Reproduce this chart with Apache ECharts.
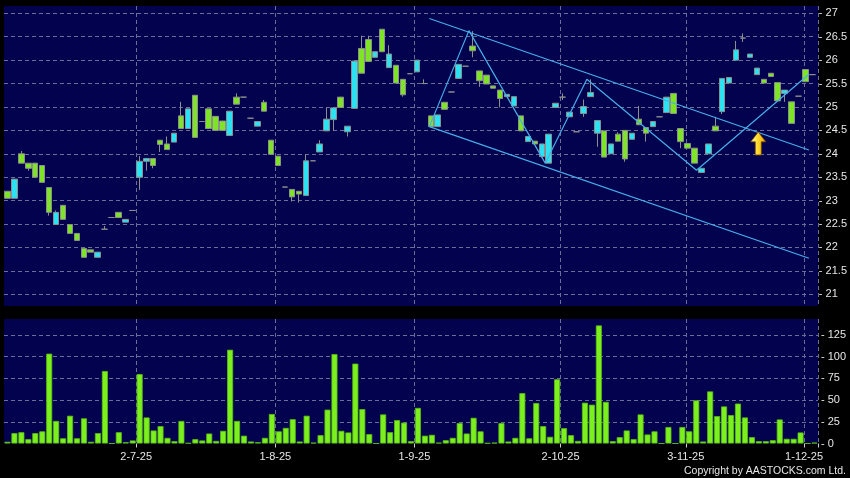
<!DOCTYPE html>
<html>
<head>
<meta charset="utf-8">
<title>K-line</title>
<script src="https://cdn.jsdelivr.net/npm/echarts@6/dist/echarts.min.js"></script>
<style>
  html, body { margin: 0; padding: 0; background: #000; }
  #kline_chart { width: 850px; height: 478px; }
</style>
</head>
<body>
<div id="kline_chart"></div>
<script>
// daily candles: [open, close, low, high]
var ohlc = [
  [23.20, 23.05, 23.05, 23.20], [23.05, 23.46, 23.05, 23.46], [24.00, 23.80, 23.80, 24.06], [23.80, 23.69, 23.64, 23.80],
  [23.80, 23.50, 23.50, 23.80], [23.75, 23.39, 23.39, 23.75], [23.28, 22.75, 22.68, 23.28], [22.49, 22.75, 22.49, 22.79],
  [22.90, 22.60, 22.60, 22.90], [22.49, 22.30, 22.30, 22.49], [22.30, 22.15, 22.15, 22.30], [21.98, 21.79, 21.79, 21.98],
  [21.95, 21.90, 21.90, 21.95], [21.79, 21.90, 21.79, 21.90], [22.39, 22.39, 22.39, 22.46], [22.64, 22.64, 22.64, 22.64],
  [22.75, 22.64, 22.64, 22.75], [22.54, 22.60, 22.54, 22.60], [22.79, 22.79, 22.79, 22.79], [23.50, 23.84, 23.23, 23.95],
  [23.84, 23.90, 23.64, 23.90], [23.90, 23.75, 23.69, 23.90], [24.29, 24.20, 24.04, 24.29], [24.21, 24.09, 24.09, 24.37],
  [24.25, 24.44, 24.25, 24.44], [24.81, 24.54, 24.54, 25.11], [24.54, 24.96, 24.54, 24.96], [25.25, 24.35, 24.35, 25.25],
  [24.69, 24.69, 24.69, 24.69], [24.96, 24.54, 24.54, 24.96], [24.80, 24.50, 24.50, 24.80], [24.70, 24.50, 24.50, 24.70],
  [24.39, 24.91, 24.39, 24.91], [25.21, 25.06, 25.06, 25.29], [25.21, 25.21, 25.21, 25.21], [24.76, 24.76, 24.76, 24.76],
  [24.59, 24.69, 24.59, 24.69], [25.10, 24.91, 24.91, 25.15], [24.29, 23.99, 23.99, 24.29], [23.95, 23.75, 23.75, 23.95],
  [23.29, 23.29, 23.29, 23.29], [23.24, 23.08, 22.98, 23.24], [23.20, 23.14, 22.96, 23.20], [23.11, 23.85, 23.11, 23.99],
  [23.85, 23.85, 23.85, 23.85], [24.04, 24.21, 24.04, 24.29], [24.49, 24.74, 24.49, 24.99], [24.73, 24.98, 24.49, 24.98],
  [25.21, 24.99, 24.99, 25.21], [24.47, 24.59, 24.37, 24.59], [24.97, 25.98, 24.97, 25.98], [26.25, 25.72, 25.72, 26.52],
  [26.44, 25.97, 25.97, 26.52], [26.06, 26.18, 26.06, 26.18], [26.66, 26.18, 26.18, 26.66], [25.84, 26.13, 25.84, 26.32],
  [25.89, 25.51, 25.51, 25.89], [25.59, 25.26, 25.22, 25.59], [25.71, 25.71, 25.71, 25.71], [25.75, 26.00, 25.75, 26.00],
  [25.50, 25.50, 25.50, 25.59], [24.81, 24.58, 24.58, 24.81], [24.58, 24.83, 24.58, 24.83], [25.10, 24.95, 24.95, 25.10],
  [25.32, 25.32, 25.32, 25.32], [25.61, 25.91, 25.61, 25.91], [25.87, 25.87, 25.87, 25.87], [26.30, 26.20, 26.06, 26.62],
  [25.77, 25.56, 25.43, 25.77], [25.68, 25.49, 25.49, 25.68], [25.45, 25.40, 25.40, 25.45], [25.36, 25.18, 24.99, 25.36],
  [25.22, 25.27, 25.22, 25.27], [25.02, 25.22, 25.02, 25.22], [24.81, 24.49, 24.49, 24.81], [24.26, 24.37, 24.26, 24.37],
  [24.27, 24.21, 24.21, 24.27], [23.94, 24.21, 23.94, 24.21], [23.80, 24.42, 23.80, 24.42], [24.99, 25.08, 24.99, 25.08],
  [25.21, 25.21, 25.15, 25.29], [24.79, 24.89, 24.79, 24.89], [24.47, 24.47, 24.47, 24.47], [24.86, 25.01, 24.79, 25.16],
  [25.22, 25.31, 25.22, 25.59], [24.44, 24.71, 24.15, 24.71], [24.49, 23.93, 23.93, 24.49], [24.00, 24.21, 24.00, 24.21],
  [24.42, 24.27, 24.27, 24.46], [24.50, 23.89, 23.83, 24.50], [24.31, 24.44, 24.31, 24.44], [24.74, 24.62, 24.62, 25.02],
  [24.56, 24.44, 24.26, 24.56], [24.58, 24.69, 24.58, 24.69], [24.79, 24.79, 24.79, 24.79], [24.88, 25.21, 24.88, 25.21],
  [25.29, 24.86, 24.86, 25.29], [24.54, 24.26, 24.12, 24.54], [24.22, 24.12, 24.12, 24.22], [24.12, 23.80, 23.80, 24.12],
  [23.60, 23.69, 23.60, 23.69], [24.00, 24.21, 24.00, 24.21], [24.59, 24.49, 24.49, 24.79], [24.90, 25.61, 24.85, 25.61],
  [25.51, 25.63, 25.51, 25.63], [26.00, 26.22, 26.00, 26.41], [26.47, 26.47, 26.39, 26.57], [26.06, 26.13, 26.06, 26.13],
  [25.69, 25.83, 25.69, 25.83], [25.59, 25.51, 25.51, 25.59], [25.72, 25.65, 25.65, 25.72], [25.52, 25.13, 25.13, 25.52],
  [25.29, 25.36, 25.11, 25.36], [25.11, 24.65, 24.65, 25.11], [25.23, 25.23, 25.23, 25.23], [25.80, 25.54, 25.54, 25.80],
  [25.69, 25.69, 25.69, 25.69]
];

var volume = [
  2, 12, 13, 5, 12, 14, 103.5, 26, 6, 32, 6, 29, 2, 12, 83.5, 0, 13, 1.5, 3.5, 80,
  30, 15, 20, 6.5, 2.7, 26, 0.5, 5, 3.5, 11.5, 3, 14.6, 108, 26, 9, 2.3, 1.5, 6.5, 34, 14,
  18, 28, 2.3, 32, 1, 9.6, 39, 103, 14.6, 12.7, 92, 39.6, 10.8, 0, 33.5, 13, 27, 24, 2.7, 41,
  9, 10, 1, 3.8, 6.5, 23.5, 11.5, 29.6, 14, 0.5, 1, 23.5, 2.3, 6.5, 58, 6, 46.6, 20, 7.7, 74,
  17.7, 9.6, 3, 47, 44.7, 136, 48, 2.7, 7.3, 15, 5, 33.5, 10.4, 14, 0, 19, 0, 19, 14, 49.7,
  2.3, 60, 31.5, 42.7, 32.7, 46, 30, 7.3, 2.7, 2.7, 3.8, 27.7, 5.4, 5.4, 12.7, 0, 1
];

// date labels and the candle index they sit on
var tick_idx = [19, 39, 59, 80, 98, 115];
var tick_text = ["2-7-25", "1-8-25", "1-9-25", "2-10-25", "3-11-25", "1-12-25"];

// drawn trend lines: [candle index, price]
var upper_line = [[60.8, 26.89], [115.5, 24.08]];
var lower_line = [[60.8, 24.58], [115.5, 21.77]];
var zigzag = [[60.8, 24.58], [66.5, 26.63], [77.5, 23.80], [83.5, 25.59], [99.3, 23.65], [115.5, 25.70]];
var arrow_pos = [[108.2, 24.22]];

var days = [];
for (var i = 0; i < ohlc.length; i++) {
  days.push(String(i));
}

function isTick(index) {
  return tick_idx.indexOf(index) >= 0;
}

var navy = "#02024e";
var gridLine = { show: true, lineStyle: { color: "#6c6c98", type: [4, 3], width: 1 } };
var labelFont = { color: "#e6e6e6", fontSize: 11, fontFamily: "Liberation Sans, Arial, sans-serif" };

var chart = echarts.init(document.getElementById("kline_chart"));

var option = {
  backgroundColor: "#000",
  animation: false,
  grid: [
    // panel behind prices
    { left: 4, right: 32, top: 6, height: 300, show: true, backgroundColor: navy, borderWidth: 0 },
    // price scale 21..27
    { left: 4, right: 32, top: 13.3, height: 281 },
    // volume
    { left: 4, right: 32, top: 319, height: 124.5, show: true, backgroundColor: navy, borderWidth: 0 },
  ],
  xAxis: [
    {
      type: "category", gridIndex: 0, data: days, boundaryGap: true,
      axisLine: { show: false }, axisTick: { show: false }, axisLabel: { show: false },
      splitLine: Object.assign({ interval: isTick }, gridLine),
    },
    {
      type: "category", gridIndex: 1, data: days, boundaryGap: true, show: false,
    },
    {
      type: "category", gridIndex: 2, data: days, boundaryGap: true,
      axisLine: { show: false },
      axisTick: { show: true, interval: isTick, length: 4, lineStyle: { color: "#cfcfcf" } },
      axisLabel: Object.assign({
        interval: isTick,
        margin: 8,
        padding: [0, 7, 0, 0],
        formatter: function (value) {
          var k = tick_idx.indexOf(parseInt(value, 10));
          return k >= 0 ? tick_text[k] : "";
        },
      }, labelFont),
      splitLine: Object.assign({ interval: isTick }, gridLine),
    },
    {
      type: "value", gridIndex: 1, min: -0.5, max: ohlc.length - 0.5, show: false,
    },
  ],
  yAxis: [
    { type: "value", gridIndex: 0, show: false, splitLine: { show: false } },
    {
      type: "value", gridIndex: 1, position: "right", min: 21, max: 27, interval: 0.5,
      axisLine: { show: false }, axisTick: { show: false },
      axisLabel: Object.assign({
        margin: 3,
        formatter: function (v) { return "- " + v; },
      }, labelFont),
      splitLine: gridLine,
    },
    {
      type: "value", gridIndex: 2, position: "right", min: 0, max: 143.4, interval: 25,
      axisLine: { show: false }, axisTick: { show: false },
      axisLabel: Object.assign({
        margin: 3,
        formatter: function (v) { return v % 25 === 0 ? "- " + v : ""; },
      }, labelFont),
      splitLine: Object.assign({ showMaxLine: false, showMinLine: false }, gridLine),
    },
  ],
  series: [
    {
      type: "candlestick",
      xAxisIndex: 1,
      yAxisIndex: 1,
      data: ohlc,
      barWidth: 6,
      itemStyle: {
        color: "#2ae2f2",
        color0: "#7ee426",
        borderColor: "#8e8e8e",
        borderColor0: "#8e8e8e",
        borderColorDoji: "#8e8e8e",
        borderWidth: 1,
      },
      emphasis: { disabled: true },
      z: 3,
    },
    {
      type: "line", xAxisIndex: 3, yAxisIndex: 1, data: upper_line,
      symbol: "none", lineStyle: { color: "#48aeea", width: 1.2 }, z: 4,
    },
    {
      type: "line", xAxisIndex: 3, yAxisIndex: 1, data: lower_line,
      symbol: "none", lineStyle: { color: "#48aeea", width: 1.2 }, z: 4,
    },
    {
      type: "line", xAxisIndex: 3, yAxisIndex: 1, data: zigzag,
      symbol: "none", lineStyle: { color: "#48aeea", width: 1.2 }, z: 4,
    },
    {
      type: "scatter", xAxisIndex: 3, yAxisIndex: 1, data: arrow_pos,
      symbol: "path://M5,0 L10,6 L7,6 L7,14 L3,14 L3,6 L0,6 Z",
      symbolSize: [15, 23],
      itemStyle: {
        opacity: 1,
        color: new echarts.graphic.LinearGradient(0, 0, 1, 0, [
          { offset: 0, color: "#fffbc0" },
          { offset: 0.45, color: "#ffdc30" },
          { offset: 1, color: "#f2a400" },
        ]),
        borderColor: "#7a4a00",
        borderWidth: 0.8,
      },
      z: 5,
    },
    {
      type: "bar",
      xAxisIndex: 2,
      yAxisIndex: 2,
      data: volume,
      barWidth: 6,
      itemStyle: { color: "#7cf01e", borderColor: "#5cbd12", borderWidth: 0.8 },
    },
  ],
  graphic: [
    {
      type: "text",
      right: 4,
      top: 466,
      style: {
        text: "Copyright by AASTOCKS.com Ltd.",
        fill: "#e6e6e6",
        fontSize: 10.5,
        fontFamily: "Liberation Sans, Arial, sans-serif",
      },
    },
  ],
};

chart.setOption(option);
</script>
</body>
</html>
